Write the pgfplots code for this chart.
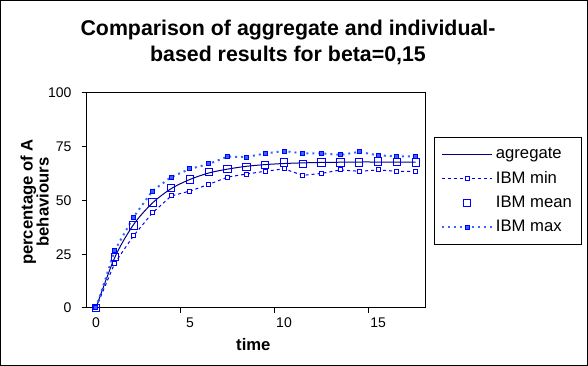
\documentclass[border=0pt]{standalone}
\usepackage{pgfplots}
\pgfplotsset{compat=1.18}
\usepackage{fontspec}
\setmainfont{Liberation Sans}
\definecolor{navy}{HTML}{000080}
\definecolor{ibmblue}{HTML}{0000FF}
\definecolor{ibmlight}{HTML}{3366FF}
\pgfplotsset{
  linelegend/.style={legend image code/.code={\draw[mark repeat=2,mark phase=2,##1] plot coordinates {(0pt,0pt) (18.75pt,0pt) (37.5pt,0pt)};}},
  marklegend/.style={legend image code/.code={\draw[##1] plot coordinates {(18.75pt,0pt)};}},
}
\begin{document}
\begin{tikzpicture}
\useasboundingbox (0,0) rectangle (441pt,274.5pt);
\draw[line width=0.75pt] (0.375pt,0.375pt) rectangle (440.625pt,274.125pt);
\node[font=\fontsize{16}{19.5}\selectfont\bfseries, align=center] at (216pt,243pt)
  {Comparison of aggregate and individual-\\based results for beta=0,15};
\begin{axis}[
  at={(64.9pt,43.5pt)}, anchor=south west,
  scale only axis, width=253.9pt, height=161.25pt,
  xmin=-0.5, xmax=17.5, ymin=0, ymax=100,
  axis line style={line width=0.75pt},
  every tick/.style={black, line width=0.75pt},
  tick align=outside, tick pos=left,
  major tick length=3.75pt,
  xtick={4.5,9.5,14.5}, xticklabels={},
  extra x ticks={0,5,10,15},
  extra x tick labels={0,5,10,15},
  extra x tick style={major tick length=0pt},
  ytick={0,25,50,75,100},
  /pgf/number format/assume math mode=true,
  ticklabel style={font=\fontsize{10.5}{12}\selectfont},
  xticklabel style={yshift=-4pt},
  yticklabel style={xshift=-4pt},
  clip=false,
  legend style={at={(1.0266,0.7953)}, anchor=north west, draw=black, line width=0.75pt,
    font=\fontsize{12.5}{14}\selectfont, row sep=4pt, inner xsep=5pt, inner ysep=6pt,
    cells={anchor=west}},
  linelegend,
]
\addplot[navy, line width=0.75pt, smooth, tension=0.5] coordinates {
(0,0) (1,23.5) (2,38.8) (3,48.8) (4,55.5) (5,59.8) (6,62.8) (7,64.6) (8,65.9)
(9,66.7) (10,67.2) (11,67.5) (12,67.7) (13,67.8) (14,67.9) (15,67.9) (16,67.9) (17,67.9)};
\addlegendentry{agregate}
\addplot[ibmblue, line width=0.75pt, dash pattern=on 2.25pt off 2.25pt,
  mark=square*, mark size=1.5pt, mark options={solid, fill=white, draw=ibmblue}] coordinates {
(0,0) (1,20.9) (2,33.6) (3,44.2) (4,52.1) (5,54.4) (6,57.5) (7,60.9) (8,62.3)
(9,63.6) (10,64.7) (11,61.7) (12,62.6) (13,64.2) (14,63.6) (15,64.2) (16,63.6) (17,63.6)};
\addlegendentry{IBM min}
\addplot[ibmblue, only marks, mark=square, mark size=2.75pt, mark options={line width=0.75pt},
  marklegend] coordinates {
(0,0) (1,23.7) (2,38.3) (3,49.0) (4,55.7) (5,59.8) (6,63.1) (7,64.7) (8,65.7)
(9,66.5) (10,67.6) (11,67.1) (12,67.6) (13,67.6) (14,67.6) (15,68.2) (16,67.8) (17,67.6)};
\addlegendentry{IBM mean}
\addplot[ibmlight, line width=1.5pt, dash pattern=on 1.5pt off 3pt,
  mark=square*, mark size=1.5pt, mark options={solid, line width=0.75pt, fill=ibmlight, draw=ibmblue}] coordinates {
(0,0) (1,26.8) (2,42.3) (3,54.4) (4,60.9) (5,64.7) (6,67.0) (7,70.4) (8,70.2)
(9,71.9) (10,73.0) (11,71.9) (12,71.9) (13,71.2) (14,72.6) (15,71.0) (16,70.5) (17,70.5)};
\addlegendentry{IBM max}
\end{axis}
\node[font=\fontsize{12.5}{12}\selectfont\bfseries, align=center, rotate=90] at (26pt,123pt)
  {percentage of A\\behaviours};
\node[font=\fontsize{12.5}{15}\selectfont\bfseries] at (190pt,15.75pt) {time};
\end{tikzpicture}
\end{document}
